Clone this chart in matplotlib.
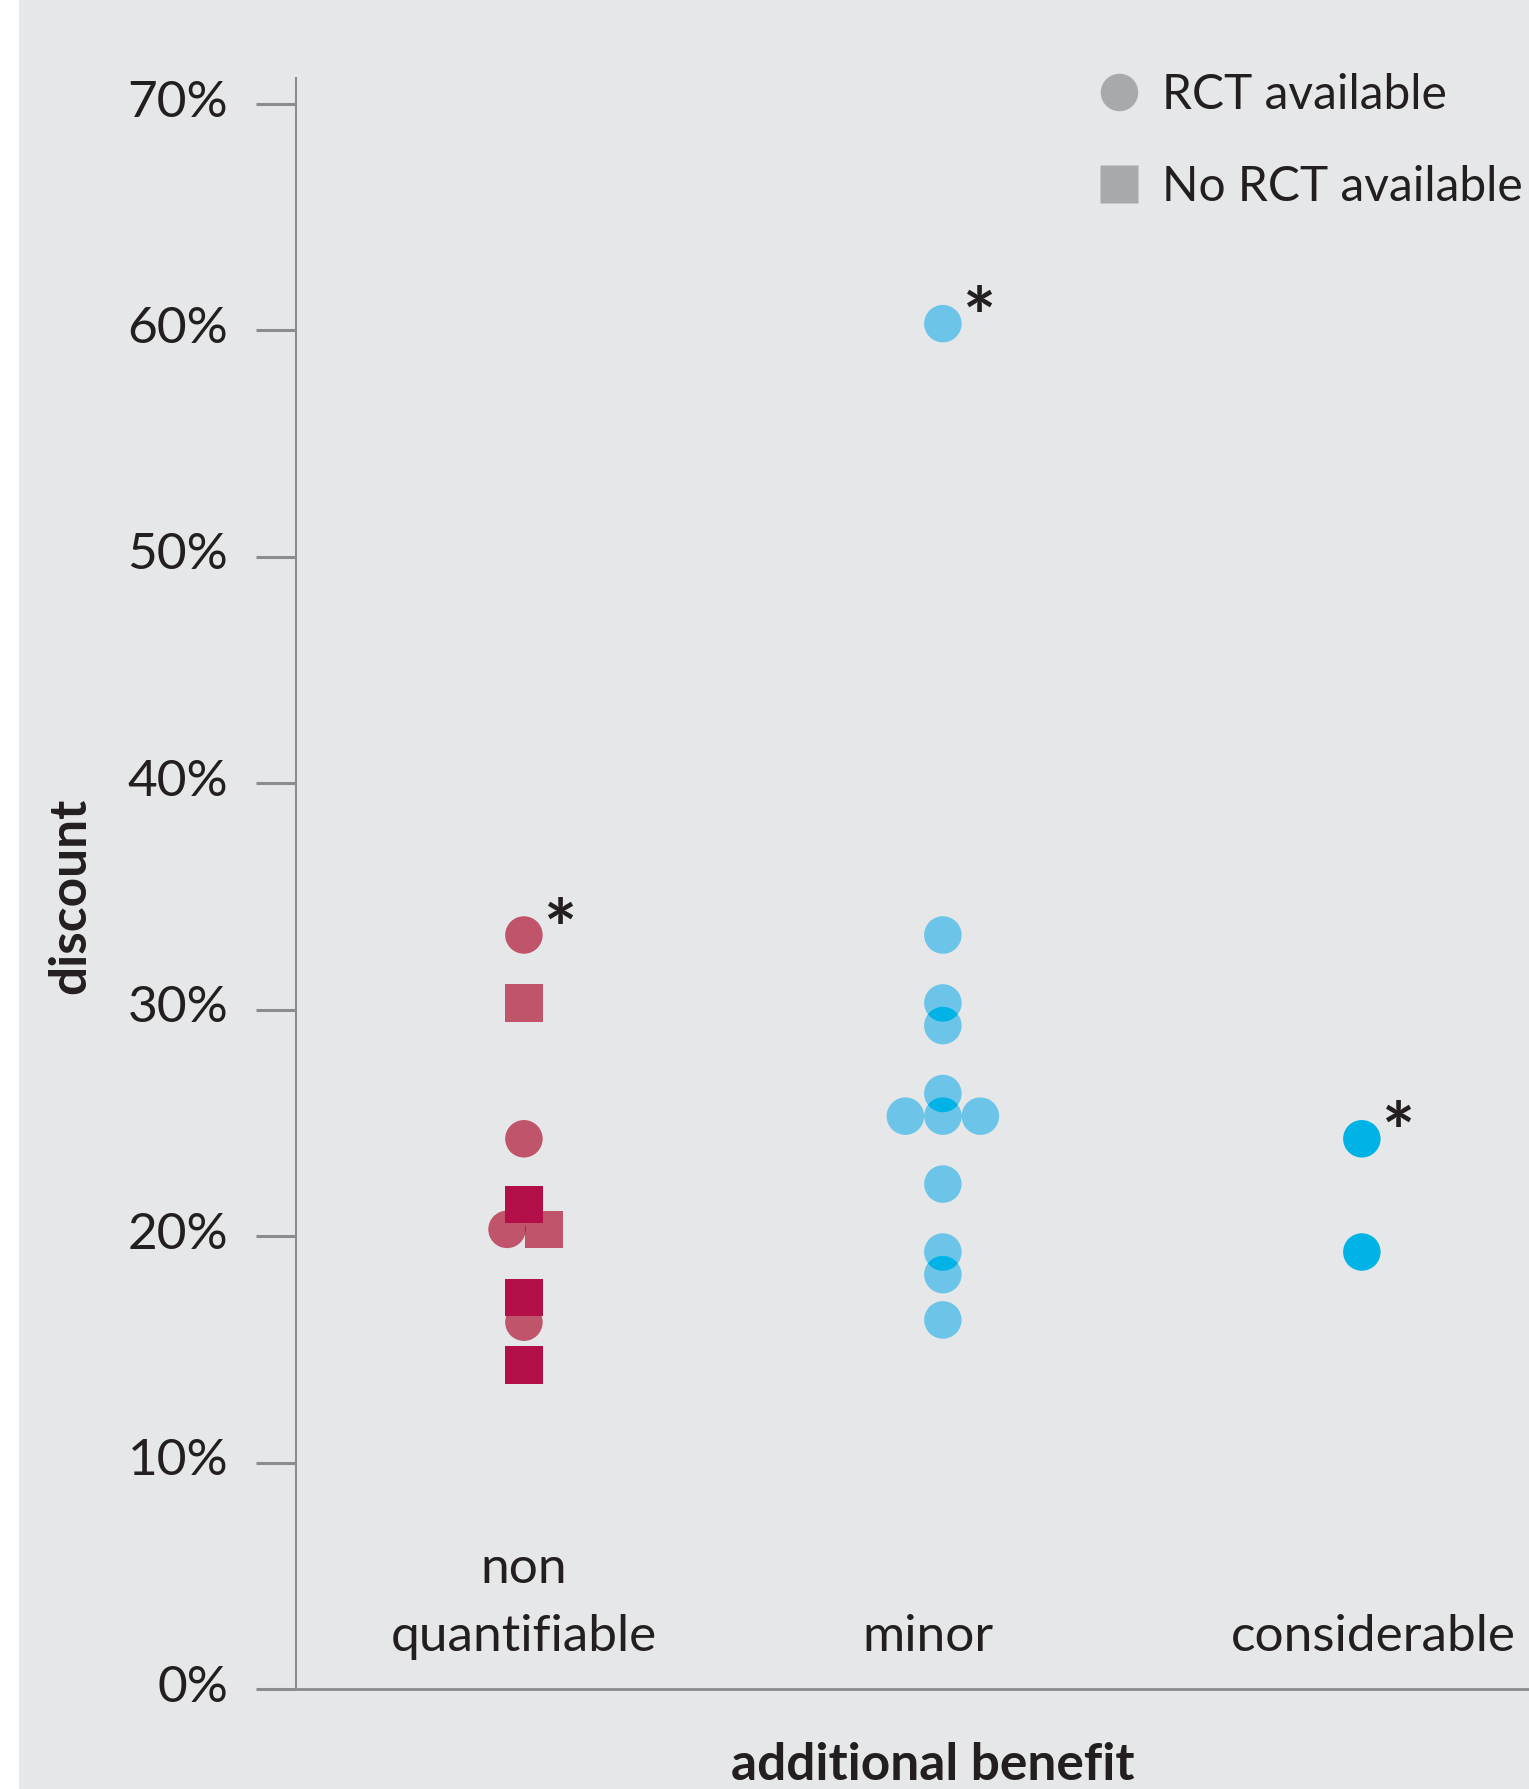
import matplotlib.pyplot as plt
from matplotlib.patches import Circle, Rectangle
from matplotlib.lines import Line2D
from matplotlib.transforms import ScaledTranslation, offset_copy

plt.rcParams['font.family'] = ['Lato', 'DejaVu Sans']

# Data
categories = ['non\nquantifiable', 'minor', 'considerable']

# non quantifiable
nq_discount = [33.3, 30.3, 24.3, 21.4, 21.4, 20.3, 20.3, 17.3, 17.3, 16.2, 14.3, 14.3]
nq_rct = [True, False, True, False, False, True, False, False, False, True, False, False]
nq_star = [True, False, False, False, False, False, False, False, False, False, False, False]
nq_dodge = [0, 0, 0, 0, 0, -0.45, 0.53, 0, 0, 0, 0, 0]

# minor
mi_discount = [60.3, 33.3, 30.3, 29.3, 26.3, 25.3, 25.3, 25.3, 22.3, 19.3, 18.3, 16.3]
mi_rct = [True] * 12
mi_star = [True] + [False] * 11
mi_dodge = [0, 0, 0, 0, 0, -1, 0, 1, 0, 0, 0, 0]

# considerable
co_discount = [24.3, 19.3]
co_rct = [True, True]
co_star = [True, False]
co_dodge = [0, 0]

groups = [
    (nq_discount, nq_rct, nq_star, nq_dodge),
    (mi_discount, mi_rct, mi_star, mi_dodge),
    (co_discount, co_rct, co_star, co_dodge),
]

# colours
BG = '#e6e7e8'
TXT = '#231f20'
AXC = '#8a8c8e'
LEG = '#a7a9ac'
light_col = ['#c0546a', '#6cc4e9', '#00b3e6']
dark_col = ['#b31049', '#00b3e6', '#00b3e6']
label_shift = [0, -15, 12]  # px
D = 0.375  # marker size, inches
FS = 37

fig = plt.figure(figsize=(15.29, 17.89), dpi=100)
fig.patch.set_facecolor('white')
fig.add_artist(Rectangle((19 / 1529, 0), 1, 1, transform=fig.transFigure,
                         facecolor=BG, edgecolor='none', zorder=-10))

ax = fig.add_axes([296 / 1529, 100 / 1789, 1 - 296 / 1529, 1611 / 1789])
ax.set_facecolor('none')
ax.set_xlim(-0.544, 2.399)
ax.set_ylim(0, 71.15)
ax.set_autoscale_on(False)

ax.set_yticks(range(0, 71, 10))
ax.set_yticklabels([f'{t}%' for t in range(0, 71, 10)])
ax.tick_params(axis='y', length=28.8, width=2.2, color=AXC, pad=20,
               labelsize=FS, labelcolor=TXT)
for lab in ax.get_yticklabels():
    lab.set_transform(lab.get_transform() + ScaledTranslation(0, 0.06, fig.dpi_scale_trans))
ax.set_xticks([])
ax.spines['top'].set_visible(False)
ax.spines['right'].set_visible(False)
ax.spines['left'].set_color(AXC)
ax.spines['left'].set_linewidth(1.5)
ax.spines['bottom'].set_color(AXC)
ax.spines['bottom'].set_linewidth(2)


def marker(x, y, rct, dodge):
    tr = fig.dpi_scale_trans + ScaledTranslation(x, y, ax.transData)
    cx = dodge * D
    if rct:
        return Circle((cx, 0), D / 2, transform=tr)
    return Rectangle((cx - D / 2, -D / 2), D, D, transform=tr)


for i, (vals, rct, star, dodge) in enumerate(groups):
    base = []
    for v, r, s, d in zip(vals, rct, star, dodge):
        p = marker(i, v, r, d)
        p.set_facecolor(light_col[i])
        p.set_edgecolor('none')
        ax.add_patch(p)
        base.append(p)
        if s:
            ax.annotate('*', xy=(i, v), xytext=(26, -15.6), textcoords='offset points',
                        ha='center', va='baseline', fontsize=56, fontweight='bold',
                        color=TXT)
    # overlapping areas appear darker
    for a in range(len(vals)):
        for b in range(a + 1, len(vals)):
            q = marker(i, vals[b], rct[b], dodge[b])
            q.set_facecolor(dark_col[i])
            q.set_edgecolor('none')
            ax.add_patch(q)
            q.set_clip_path(base[a])

for i, (lab, sh) in enumerate(zip(categories, label_shift)):
    tr = offset_copy(ax.get_xaxis_transform(), fig=fig, x=sh, y=0, units='dots')
    ax.text(i, 0.018, lab, transform=tr, ha='center', va='bottom', fontsize=FS,
            linespacing=1.6, color=TXT)

handles = [
    Line2D([], [], ls='none', marker='o', ms=D * 72, mfc=LEG, mec='none'),
    Line2D([], [], ls='none', marker='s', ms=D * 72, mfc=LEG, mec='none'),
]
ax.legend(handles, ['RCT available', 'No RCT available'], loc='upper left',
          bbox_to_anchor=(0.652, 1.003), frameon=False, fontsize=34.5,
          handlelength=0.8, handletextpad=0.5, labelspacing=1.0,
          borderpad=0, borderaxespad=0, labelcolor=TXT)

fig.text(71 / 1529, 1 - 896 / 1789, 'discount', rotation=90, ha='center',
         va='center', fontsize=37, fontweight='bold', color=TXT)
fig.text(933 / 1529, 1 - 1766 / 1789, 'additional benefit', ha='center',
         va='center', fontsize=37, fontweight='bold', color=TXT)

fig.savefig('out.png', dpi=100, facecolor=fig.get_facecolor())
